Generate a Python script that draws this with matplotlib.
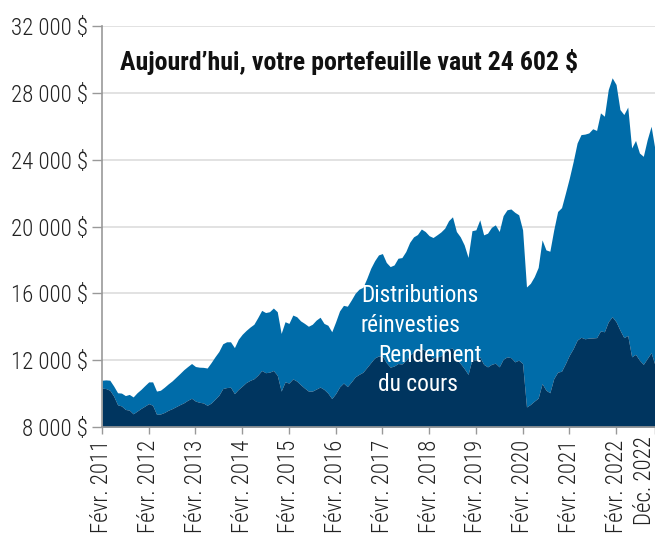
import os
import numpy as np
import matplotlib
matplotlib.use("Agg")
import matplotlib.pyplot as plt
from matplotlib import font_manager
from matplotlib.font_manager import FontProperties
from matplotlib.transforms import ScaledTranslation

# monthly values, Feb 2011 .. Dec 2022
total_value = [
    10800, 10820, 10800, 10450, 10050, 10030, 9880, 9950, 9800, 10050, 10250, 10480,
    10700, 10700, 10150, 10200, 10380, 10580, 10760, 10980, 11200, 11430, 11620, 11800,
    11620, 11580, 11570, 11530, 11850, 12200, 12520, 12980, 13100, 13100, 12750, 13250,
    13550, 13780, 13980, 14150, 14550, 14980, 14850, 14900, 15120, 14900, 13600, 14300,
    14200, 14700, 14600, 14350, 14200, 14030, 14150, 14400, 14570, 14200, 14090, 13700,
    14300, 14950, 15280, 15230, 15600, 16000, 16250, 16360, 16900, 17500, 17950, 18300,
    18380, 17850, 17600, 17700, 18100, 18140, 18500, 19050, 19380, 19520, 19850, 19700,
    19450, 19340, 19500, 19670, 19900, 20350, 20580, 19700, 19380, 18900, 18150, 19750,
    19800, 20400, 19500, 19600, 19950, 20100, 19700, 20650, 21000, 21050, 20850, 20700,
    19800, 16380, 16600, 17000, 17550, 19200, 18600, 18520, 19800, 20900, 21130, 22000,
    22900, 23900, 25000, 25500, 25530, 25600, 25850, 25750, 26800, 26600, 28200, 28900,
    28500, 27000, 26700, 27150, 24700, 25150, 24400, 24200, 25200, 26000, 24602,
]

price_value = [
    10330, 10300, 10200, 9850, 9330, 9260, 9050, 9010, 8790, 8950, 9110, 9250,
    9400, 9300, 8760, 8780, 8870, 9000, 9100, 9220, 9340, 9450, 9600, 9720,
    9550, 9480, 9440, 9300, 9430, 9660, 9900, 10300, 10360, 10380, 10000, 10250,
    10450, 10660, 10790, 10890, 11100, 11380, 11250, 11280, 11380, 11100, 10150, 10700,
    10630, 10880, 10750, 10530, 10330, 10150, 10150, 10270, 10390, 10250, 10030, 9700,
    10000, 10400, 10630, 10420, 10700, 11000, 11150, 11280, 11560, 11850, 12130, 12250,
    12250, 11850, 11580, 11650, 11800, 11770, 11980, 12280, 12480, 12590, 12700, 12580,
    12320, 12120, 12180, 12250, 12480, 12680, 12720, 12050, 11800, 11500, 11150, 12050,
    12000, 12200, 11750, 11600, 11750, 11820, 11600, 12050, 12200, 12150, 11900, 12000,
    11800, 9200, 9350, 9550, 9730, 10600, 10200, 10050, 10900, 11280, 11340, 11800,
    12300, 12700, 13200, 13370, 13280, 13320, 13330, 13350, 13750, 13700, 14300, 14600,
    14300, 13800, 13350, 13480, 12200, 12350, 12000, 11750, 12100, 12450, 11700,
]

tick_months = [0, 12, 24, 36, 48, 60, 72, 84, 96, 108, 120, 132, 142]
tick_labels = ["Févr. 2011", "Févr. 2012", "Févr. 2013", "Févr. 2014", "Févr. 2015",
               "Févr. 2016", "Févr. 2017", "Févr. 2018", "Févr. 2019", "Févr. 2020",
               "Févr. 2021", "Févr. 2022", "Déc. 2022"]
y_ticks = [8000, 12000, 16000, 20000, 24000, 28000, 32000]


def find_font(patterns):
    files = [f.fname for f in font_manager.fontManager.ttflist]
    for p in patterns:
        for fn in files:
            if os.path.basename(fn).lower().startswith(p.lower()):
                return fn
    return None


def make_fp(patterns, size, weight='normal'):
    fn = find_font(patterns)
    if fn:
        return FontProperties(fname=fn, size=size)
    # no narrow face around: fall back on a smaller regular one
    return FontProperties(family='DejaVu Sans', size=size * 0.8, weight=weight)


def main():
    light = make_fp(["LiberationSansNarrow-Regular", "RobotoCondensed-Light",
                     "RobotoCondensed-Regular", "DejaVuSansCondensed.ttf"], 16.5)
    label = make_fp(["LiberationSansNarrow-Regular", "RobotoCondensed-Regular",
                     "DejaVuSansCondensed.ttf"], 16.8)
    bold = make_fp(["LiberationSansNarrow-Bold.", "RobotoCondensed-Bold.",
                    "DejaVuSansCondensed-Bold."], 18.6, 'bold')

    dark = "#00355f"
    blue = "#006ca9"
    months = np.arange(len(total_value))

    fig = plt.figure(figsize=(6.55, 5.38), dpi=100)
    ax = fig.add_axes([102 / 655, 1 - 427 / 538, 553 / 655, 401 / 538])

    ax.fill_between(months, 8000, price_value, color=dark, lw=0, zorder=3)
    ax.fill_between(months, price_value, total_value, color=blue, lw=0, zorder=2)

    ax.set_xlim(0, 142)
    ax.set_ylim(8000, 32000)
    ax.set_yticks(y_ticks)
    ax.set_yticklabels([f"{v:,}".replace(",", " ") + " $" for v in y_ticks])
    ax.set_xticks(tick_months)
    # last label is drawn by hand, nudged left so it stays inside the figure
    ax.set_xticklabels(tick_labels[:-1] + [""], rotation=90)
    for lbl in ax.get_xticklabels() + ax.get_yticklabels():
        lbl.set_fontproperties(light)
    shift = ScaledTranslation(-0.105, -0.09, fig.dpi_scale_trans)
    ax.text(tick_months[-1], 0, tick_labels[-1], transform=ax.get_xaxis_transform() + shift,
            rotation=90, ha='center', va='top', color="#222222", fontproperties=light)

    ax.grid(axis='y', color="#dddddd", lw=1.2, zorder=0)
    ax.set_axisbelow(True)
    for s in ["top", "right"]:
        ax.spines[s].set_visible(False)
    for s in ["left", "bottom"]:
        ax.spines[s].set_color("#999999")
        ax.spines[s].set_linewidth(1.2)
        ax.spines[s].set_zorder(4)
    ax.tick_params(axis='y', length=7, width=1, color="#999999",
                   labelcolor="#222222", pad=3)
    ax.tick_params(axis='x', length=5, width=1, color="#999999",
                   labelcolor="#222222", pad=4)

    fig.text(120 / 655, 1 - 62 / 538, "Aujourd\u2019hui, votre portefeuille vaut 24 602 $",
             fontproperties=bold, color="#111111", va='center', ha='left')

    ax.text(66.5, 16550, "Distributions\nréinvesties", color="white", fontproperties=label,
            ha='left', va='top', linespacing=1.4, zorder=5)
    ax.text(71, 12950, "Rendement\ndu cours", color="white", fontproperties=label,
            ha='left', va='top', linespacing=1.3, zorder=5)

    fig.savefig("out.png", dpi=100)


if __name__ == "__main__":
    main()
